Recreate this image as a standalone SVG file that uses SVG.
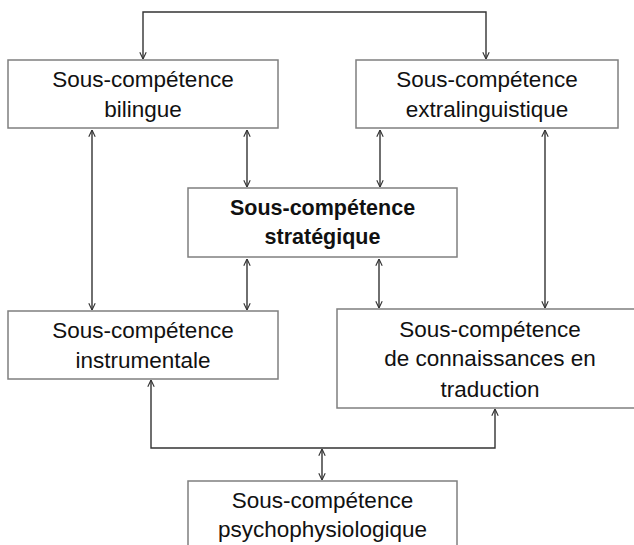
<svg xmlns="http://www.w3.org/2000/svg" width="634" height="545" viewBox="0 0 634 545">
  <style>
    .box { fill: #ffffff; stroke: #7f7f7f; stroke-width: 1.5; }
    .lbl { font-family: "Liberation Sans", Arial, sans-serif; font-size: 22.5px; fill: #111111; text-anchor: middle; }
    .bold { font-weight: bold; font-size: 21.5px; }
    .con { fill: none; stroke: #333333; stroke-width: 1.4; marker-start: url(#arr); marker-end: url(#arr); }
  </style>
  <defs>
    <marker id="arr" viewBox="0 0 10 10" refX="9.5" refY="5" markerWidth="8" markerHeight="8" markerUnits="userSpaceOnUse" orient="auto-start-reverse">
      <path d="M1,1 L9.5,5 L1,9" fill="none" stroke="#333333" stroke-width="1.4"/>
    </marker>
  </defs>
  <rect width="634" height="545" fill="#ffffff"/>

  <g id="connectors">
    <path class="con" d="M143,59 V12 H486 V59"/>
    <path class="con" d="M92,130 V310"/>
    <path class="con" d="M247,130 V187"/>
    <path class="con" d="M380,130 V187"/>
    <path class="con" d="M545,130 V308"/>
    <path class="con" d="M247,259 V310"/>
    <path class="con" d="M379,259 V308"/>
    <path class="con" d="M151,380 V448 H495 V409"/>
    <path class="con" d="M322,449 V480"/>
  </g>

  <g id="bilingue">
    <rect class="box" x="8" y="60" width="270" height="68"/>
    <text class="lbl" x="143" y="87">Sous-compétence</text>
    <text class="lbl" x="143" y="117">bilingue</text>
  </g>

  <g id="extralinguistique">
    <rect class="box" x="356" y="60" width="262" height="68"/>
    <text class="lbl" x="487" y="87">Sous-compétence</text>
    <text class="lbl" x="487" y="117">extralinguistique</text>
  </g>

  <g id="strategique">
    <rect class="box" x="188" y="188" width="269" height="69"/>
    <text class="lbl bold" x="322.5" y="215">Sous-compétence</text>
    <text class="lbl bold" x="322.5" y="244">stratégique</text>
  </g>

  <g id="instrumentale">
    <rect class="box" x="8" y="311" width="270" height="68"/>
    <text class="lbl" x="143" y="338">Sous-compétence</text>
    <text class="lbl" x="143" y="368">instrumentale</text>
  </g>

  <g id="connaissances">
    <rect class="box" x="337" y="309" width="306" height="99"/>
    <text class="lbl" x="490" y="337">Sous-compétence</text>
    <text class="lbl" x="490" y="366">de connaissances en</text>
    <text class="lbl" x="490" y="397">traduction</text>
  </g>

  <g id="psychophysiologique">
    <rect class="box" x="188" y="481" width="269" height="80"/>
    <text class="lbl" x="322.5" y="508">Sous-compétence</text>
    <text class="lbl" x="322.5" y="537">psychophysiologique</text>
  </g>
</svg>
